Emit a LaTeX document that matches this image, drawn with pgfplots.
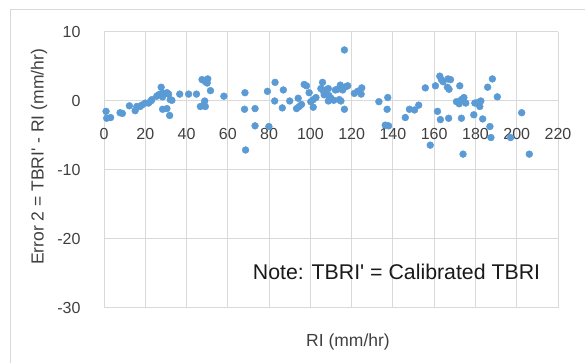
\documentclass[border=0pt]{standalone}
\usepackage{pgfplots}
\pgfplotsset{compat=1.18}
\usepackage{pgfplotstable}
\usepackage{fontspec}
\setmainfont{Liberation Sans}
\definecolor{dotblue}{HTML}{5B9BD5}
\definecolor{gridgray}{HTML}{D9D9D9}
\definecolor{txtgray}{HTML}{404040}
\pgfplotstableread{
x y
1.0 -1.5
1.3 -2.5
3.2 -2.4
7.8 -1.7
8.9 -1.8
12.3 -0.7
15.1 -1.4
15.9 -0.8
17.5 -0.8
18.3 -0.6
20.0 -0.3
21.6 -0.3
22.7 0.0
23.2 0.2
25.6 0.7
26.4 0.9
27.7 2.0
28.0 1.1
28.9 1.1
28.4 0.6
30.5 1.2
31.3 1.0
32.1 0.2
32.9 0.1
28.4 -1.2
30.5 -1.1
31.8 -2.1
36.7 1.0
41.0 1.0
44.8 1.0
47.5 3.1
49.1 2.8
50.0 2.6
50.3 3.2
51.6 1.5
48.8 0.0
48.3 -0.6
46.7 -0.8
49.1 -0.8
58.1 0.7
68.3 1.2
68.1 -1.2
73.2 -1.1
73.2 -3.6
68.6 -7.1
79.9 -3.7
79.2 1.4
82.9 2.7
82.7 0.0
86.9 1.6
86.4 -1.0
90.0 0.0
94.1 0.4
93.3 -1.1
94.6 -0.8
95.7 -0.5
97.0 2.4
98.1 2.2
99.4 1.2
100.2 -0.1
101.4 0.2
102.7 0.5
101.4 -0.9
105.9 2.7
105.1 1.8
106.4 1.4
107.5 1.6
108.7 1.8
106.7 0.9
109.0 0.8
110.0 0.4
108.7 0.0
111.3 0.1
112.1 1.6
113.2 1.7
114.5 2.3
115.7 1.6
117.3 2.1
118.1 2.2
114.0 0.2
114.8 0.0
116.5 7.4
116.5 -1.2
121.3 1.1
122.9 1.4
124.9 1.9
124.6 1.0
133.2 -0.1
137.5 0.5
137.2 -1.2
136.3 -3.5
137.9 -3.6
146.0 -2.4
148.0 -1.2
150.5 -1.3
152.5 -0.6
155.7 1.9
158.1 -6.4
160.6 2.2
162.7 3.6
163.5 3.1
164.3 2.8
166.7 3.2
167.9 3.1
166.4 2.0
167.2 1.7
161.6 -1.5
163.0 -2.7
167.0 -2.5
172.4 2.2
170.8 -0.1
172.1 -0.4
173.2 0.2
174.4 0.5
175.3 -0.3
173.2 -2.5
174.0 -7.7
179.2 -2.0
179.7 -0.3
181.3 -0.2
182.1 -0.8
182.6 0.0
183.5 -2.6
185.9 2.0
188.2 3.2
190.6 0.6
187.0 -3.7
187.5 -5.3
197.0 -5.3
202.4 -1.7
206.1 -7.7
}\errdata
\begin{document}
\begin{tikzpicture}
\path[use as bounding box] (0,0) rectangle (585bp,363bp);
\draw[gridgray, line width=1bp] (10bp,0) -- (10bp,353bp) -- (585bp,353bp);
\begin{axis}[
  at={(104bp,55bp)}, anchor=south west,
  scale only axis, width=454bp, height=276bp,
  xmin=0, xmax=220, ymin=-30, ymax=10,
  xtick={0,20,...,220}, ytick={-30,-20,-10,0,10},
  axis x line=middle, axis y line=left,
  axis line style={draw=gridgray, line width=1bp, -},
  hide obscured x ticks=false, hide obscured y ticks=false,
  major tick length=0pt,
  grid=major, grid style={draw=gridgray, line width=1bp},
  tick label style={font=\fontsize{16bp}{19bp}\selectfont, text=txtgray},
  /pgf/number format/assume math mode=true,
  xticklabel style={anchor=center, yshift=-33bp},
  yticklabel style={anchor=east, xshift=-20bp},
]
\addplot[only marks, color=dotblue, mark=*, mark size=3.4bp, mark options={solid, draw=dotblue, fill=dotblue, line width=0.5bp}] table[x=x, y=y] {\errdata};
\end{axis}
\node[text=txtgray, font=\fontsize{17.5bp}{21bp}\selectfont] at (348bp,21bp) {RI (mm/hr)};
\node[rotate=90, text=txtgray, font=\fontsize{17.5bp}{21bp}\selectfont] at (39bp,206bp) {Error 2 = TBRI\textquotesingle{} - RI (mm/hr)};
\node[text=black!90, font=\fontsize{21.3bp}{25bp}\selectfont] at (396.5bp,91bp) {Note: TBRI\textquotesingle{} = Calibrated TBRI};
\end{tikzpicture}
\end{document}
